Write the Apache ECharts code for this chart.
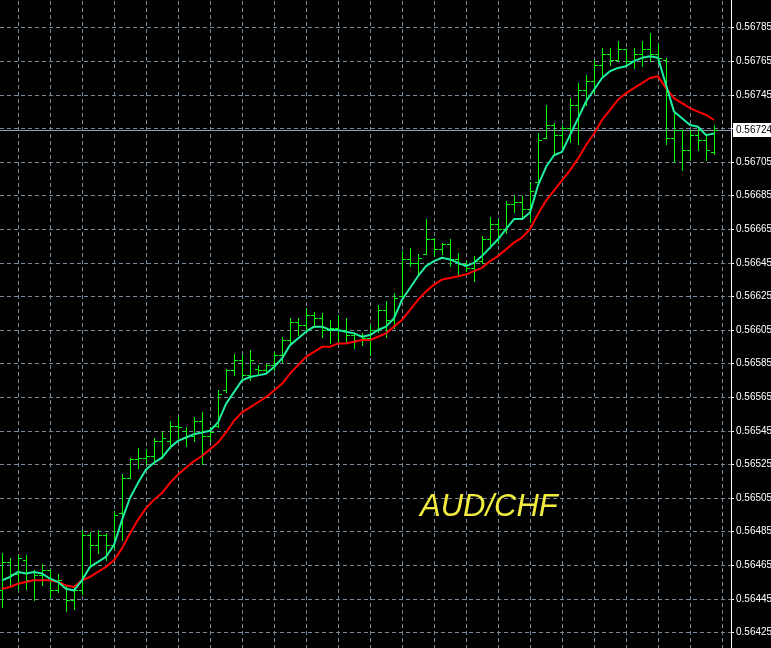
<!DOCTYPE html>
<html><head><meta charset="utf-8">
<script src="https://cdn.jsdelivr.net/npm/echarts@6/dist/echarts.min.js"></script>
<style>html,body{margin:0;padding:0;background:#000;}#c{width:771px;height:648px;}</style>
</head><body><div id="c"></div>
<script>
const opens = [
0.56450,0.56467,0.56460,0.56468,0.56456,0.56459,0.56462,0.56450,0.56452,0.56444,
0.56450,0.56483,0.56477,0.56483,0.56477,0.56496,0.56517,0.56528,0.56529,0.56530,
0.56539,0.56539,0.56548,0.56545,0.56542,0.56551,0.56542,0.56548,0.56569,0.56581,
0.56587,0.56578,0.56582,0.56581,0.56584,0.56590,0.56599,0.56610,0.56608,0.56614,
0.56612,0.56605,0.56606,0.56605,0.56602,0.56599,0.56600,0.56605,0.56617,0.56611,
0.56625,0.56647,0.56645,0.56650,0.56659,0.56653,0.56656,0.56647,0.56644,0.56642,
0.56646,0.56659,0.56668,0.56665,0.56680,0.56681,0.56677,0.56693,0.56719,0.56727,
0.56721,0.56725,0.56739,0.56748,0.56753,0.56763,0.56769,0.56766,0.56772,0.56765,
0.56769,0.56772,0.56769,0.56766,0.56719,0.56724,0.56712,0.56721,0.56718,0.56711];
const highs = [
0.56472,0.56469,0.56471,0.56471,0.56462,0.56466,0.56462,0.56460,0.56453,0.56453,
0.56486,0.56485,0.56486,0.56484,0.56497,0.56519,0.56529,0.56535,0.56534,0.56541,
0.56544,0.56551,0.56553,0.56547,0.56553,0.56556,0.56547,0.56569,0.56582,0.56591,
0.56590,0.56593,0.56584,0.56585,0.56592,0.56601,0.56612,0.56612,0.56618,0.56616,
0.56615,0.56611,0.56614,0.56612,0.56604,0.56603,0.56608,0.56620,0.56622,0.56627,
0.56652,0.56654,0.56650,0.56671,0.56660,0.56657,0.56659,0.56651,0.56646,0.56649,
0.56661,0.56672,0.56671,0.56682,0.56685,0.56685,0.56693,0.56722,0.56739,0.56728,
0.56727,0.56743,0.56752,0.56757,0.56766,0.56773,0.56773,0.56777,0.56772,0.56773,
0.56777,0.56782,0.56775,0.56767,0.56735,0.56724,0.56724,0.56725,0.56721,0.56727];
const lows = [
0.56440,0.56452,0.56451,0.56451,0.56444,0.56453,0.56446,0.56449,0.56438,0.56439,
0.56448,0.56464,0.56472,0.56468,0.56475,0.56480,0.56517,0.56523,0.56525,0.56526,
0.56529,0.56535,0.56541,0.56536,0.56539,0.56525,0.56539,0.56547,0.56568,0.56578,
0.56576,0.56575,0.56578,0.56580,0.56581,0.56586,0.56596,0.56602,0.56604,0.56607,
0.56601,0.56597,0.56598,0.56598,0.56594,0.56596,0.56590,0.56604,0.56601,0.56606,
0.56625,0.56643,0.56638,0.56650,0.56649,0.56650,0.56643,0.56637,0.56640,0.56634,
0.56645,0.56654,0.56657,0.56663,0.56675,0.56672,0.56669,0.56693,0.56719,0.56710,
0.56713,0.56717,0.56716,0.56739,0.56746,0.56757,0.56763,0.56765,0.56762,0.56761,
0.56762,0.56765,0.56764,0.56716,0.56705,0.56700,0.56706,0.56712,0.56706,0.56710];
const closes = [
0.56467,0.56460,0.56469,0.56456,0.56459,0.56462,0.56450,0.56456,0.56444,0.56450,
0.56483,0.56477,0.56483,0.56477,0.56495,0.56517,0.56528,0.56529,0.56530,0.56539,
0.56541,0.56548,0.56547,0.56542,0.56551,0.56542,0.56544,0.56567,0.56581,0.56587,
0.56578,0.56587,0.56581,0.56584,0.56590,0.56599,0.56610,0.56608,0.56614,0.56612,
0.56605,0.56606,0.56605,0.56602,0.56599,0.56600,0.56605,0.56617,0.56611,0.56624,
0.56647,0.56645,0.56648,0.56659,0.56653,0.56656,0.56647,0.56644,0.56642,0.56646,
0.56659,0.56668,0.56665,0.56680,0.56681,0.56677,0.56688,0.56718,0.56727,0.56721,
0.56725,0.56739,0.56748,0.56753,0.56763,0.56769,0.56766,0.56772,0.56765,0.56769,
0.56772,0.56769,0.56767,0.56719,0.56724,0.56712,0.56721,0.56718,0.56712,0.56724];
const maFast = [
0.56456,0.56458,0.56461,0.56460,0.56461,0.56460,0.56457,0.56455,0.56451,0.56450,
0.56456,0.56464,0.56467,0.56470,0.56477,0.56492,0.56505,0.56514,0.56522,0.56526,
0.56529,0.56535,0.56539,0.56541,0.56543,0.56544,0.56545,0.56550,0.56561,0.56568,
0.56575,0.56577,0.56578,0.56579,0.56583,0.56588,0.56596,0.56600,0.56604,0.56607,
0.56607,0.56605,0.56605,0.56604,0.56603,0.56601,0.56602,0.56605,0.56607,0.56612,
0.56623,0.56630,0.56637,0.56643,0.56646,0.56648,0.56647,0.56645,0.56643,0.56645,
0.56649,0.56654,0.56659,0.56665,0.56671,0.56671,0.56675,0.56691,0.56702,0.56709,
0.56711,0.56721,0.56731,0.56741,0.56748,0.56755,0.56759,0.56761,0.56762,0.56765,
0.56767,0.56768,0.56767,0.56751,0.56735,0.56731,0.56727,0.56726,0.56721,0.56722];
const maSlow = [
0.56451,0.56452,0.56454,0.56455,0.56456,0.56456,0.56456,0.56455,0.56453,0.56452,
0.56456,0.56458,0.56461,0.56464,0.56468,0.56475,0.56484,0.56492,0.56499,0.56504,
0.56508,0.56514,0.56519,0.56523,0.56527,0.56530,0.56534,0.56538,0.56544,0.56551,
0.56556,0.56559,0.56562,0.56565,0.56569,0.56573,0.56579,0.56584,0.56589,0.56592,
0.56595,0.56595,0.56597,0.56597,0.56598,0.56599,0.56599,0.56601,0.56603,0.56607,
0.56611,0.56617,0.56623,0.56628,0.56632,0.56635,0.56636,0.56637,0.56638,0.56640,
0.56642,0.56646,0.56649,0.56653,0.56657,0.56660,0.56665,0.56674,0.56682,0.56688,
0.56694,0.56700,0.56707,0.56715,0.56722,0.56730,0.56736,0.56742,0.56746,0.56749,
0.56752,0.56755,0.56756,0.56749,0.56743,0.56740,0.56737,0.56735,0.56733,0.56730];
const bidPrice = 0.56724;
const symbolName = 'AUD/CHF';
const yMin = 0.56405, yMax = 0.56805, yStep = 0.0002;

const ohlc = opens.map((o, i) => [i, o, highs[i], lows[i], closes[i]]);
const GREEN = '#00ff00';
const LABEL_FONT = '10px "Liberation Sans"';
const chart = echarts.init(document.getElementById('c'));
chart.setOption({
  backgroundColor: '#000',
  animation: false,
  title: {
    text: symbolName, left: 415, top: 487,
    textStyle: {color: '#f2ec3e', fontStyle: 'italic', fontWeight: 'normal', fontSize: 31, fontFamily: 'Liberation Sans'}
  },
  grid: {left: -14, right: 40, top: -6, bottom: -18, outerBoundsMode: 'none', containLabel: false},
  xAxis: {
    type: 'value', min: -2, max: 91.125, interval: 4,
    axisLine: {show: false}, axisTick: {show: false}, axisLabel: {show: false},
    splitLine: {show: true, lineStyle: {color: '#778899', type: [4, 3], width: 1}}
  },
  yAxis: {
    type: 'value', position: 'right', min: yMin, max: yMax, interval: yStep,
    axisLine: {show: true, onZero: false, lineStyle: {color: '#ffffff', width: 1}},
    axisTick: {show: true, length: 3, lineStyle: {color: '#ffffff'}},
    axisLabel: {color: '#ffffff', fontSize: 10, fontFamily: 'Liberation Sans', margin: 5,
      formatter: v => v.toFixed(5)},
    splitLine: {show: true, lineStyle: {color: '#778899', type: [4, 3], width: 1}}
  },
  series: [
    {
      type: 'custom', data: [[0, bidPrice]], encode: {x: 0, y: 1}, z: 1, clip: false, silent: true,
      renderItem: function (params, api) {
        const cs = params.coordSys;
        const y = Math.round(api.coord([0, api.value(1)])[1]) + 0.5;
        return {type: 'line', shape: {x1: cs.x, y1: y, x2: cs.x + cs.width, y2: y},
          style: {stroke: '#8c9ab0', lineWidth: 1}};
      }
    },
    {
      type: 'custom', data: ohlc, encode: {x: 0, y: [1, 2, 3, 4]}, z: 3,
      renderItem: function (params, api) {
        const i = api.value(0);
        const pH = api.coord([i, api.value(2)]);
        const pL = api.coord([i, api.value(3)]);
        const yo = Math.round(api.coord([i, api.value(1)])[1]) + 0.5;
        const yc = Math.round(api.coord([i, api.value(4)])[1]) + 0.5;
        const cx = Math.round(pH[0]) + 0.5;
        const st = {stroke: GREEN, lineWidth: 1};
        return {type: 'group', children: [
          {type: 'line', shape: {x1: cx, y1: Math.round(pH[1]), x2: cx, y2: Math.round(pL[1]) + 1}, style: st},
          {type: 'line', shape: {x1: cx - 3.5, y1: yo, x2: cx, y2: yo}, style: st},
          {type: 'line', shape: {x1: cx, y1: yc, x2: cx + 3.5, y2: yc}, style: st}
        ]};
      }
    },
    {
      type: 'line', data: maSlow.map((v, i) => [i, v]), showSymbol: false, symbol: 'none', z: 4,
      lineStyle: {color: '#ff0000', width: 2}
    },
    {
      type: 'line', data: maFast.map((v, i) => [i, v]), showSymbol: false, symbol: 'none', z: 5,
      lineStyle: {color: '#1ff0a0', width: 2}
    },
    {
      type: 'custom', data: [[0, bidPrice]], encode: {x: 0, y: 1}, z: 20, clip: false, silent: true,
      renderItem: function (params, api) {
        const cs = params.coordSys;
        const y = Math.round(api.coord([0, api.value(1)])[1]);
        const right = cs.x + cs.width;
        return {type: 'group', children: [
          {type: 'rect', shape: {x: right + 2, y: y - 7, width: 42, height: 14}, style: {fill: '#ffffff'}},
          {type: 'text', x: right + 5, y: y + 0.5, style: {text: api.value(1).toFixed(5), fill: '#000000',
            font: LABEL_FONT, textAlign: 'left', textVerticalAlign: 'middle'}}
        ]};
      }
    }
  ]
});
</script></body></html>
